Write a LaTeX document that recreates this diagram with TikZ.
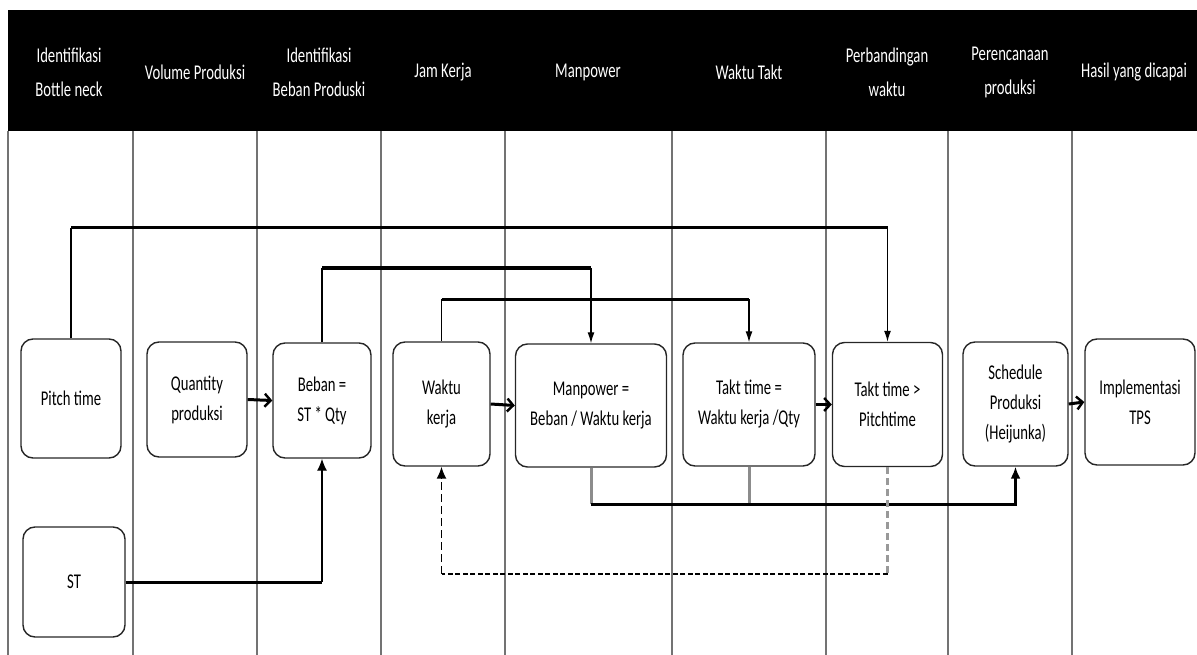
\documentclass[tikz,border=0pt]{standalone}
\usepackage{fontspec}
\setmainfont{Carlito}[FakeStretch=0.7]
\usetikzlibrary{arrows.meta}
\begin{document}
\begin{tikzpicture}[x=1pt,y=-1pt,
  lane/.style={draw=black!55, line width=1.3pt},
  box/.style={draw=black!85, line width=1.4pt, rounded corners=12pt, align=center,
    font=\fontsize{21}{30}\selectfont, inner sep=0pt},
  hdr/.style={text=white, align=center, font=\fontsize{21}{34}\selectfont},
  vthin/.style={draw=black, line width=1.3pt},
  hthick/.style={draw=black, line width=3pt},
  graydrop/.style={draw=black!45, line width=3pt},
  graydash/.style={draw=black!40, line width=3pt, dash pattern=on 7pt off 4pt},
  blkdash/.style={draw=black, line width=2.6pt, dash pattern=on 5pt off 2.5pt},
  vdash/.style={draw=black, line width=1.6pt, dash pattern=on 8pt off 4pt},
  downtip/.style={-{Latex[length=11pt,width=7pt]}},
  uptip/.style={-{Latex[length=12pt,width=10pt]}},
  opentip/.style={-{Straight Barb[length=6pt,width=13pt,line width=2.4pt]}},
  harrow/.style={draw=black, line width=3pt}
]
\useasboundingbox (0,0) rectangle (1197,655);
% header band
\fill[black] (8,10) rectangle (1197,131);
% lane lines
\foreach \x in {8,133,257,381,505,672,826,948,1072}
  \draw[lane] (\x,131) -- (\x,655);
% header texts
\node[hdr] (h1) at (69,72) {Identifikasi\\Bottle neck};
\node[hdr] (h2) at (195,72) {Volume Produksi};
\node[hdr] (h3) at (319,72) {Identifikasi\\Beban Produski};
\node[hdr] (h4) at (443,72) {Jam Kerja};
\node[hdr] (h5) at (588,72) {Manpower};
\node[hdr] (h6) at (749,72) {Waktu Takt};
\node[hdr] (h7) at (887,72) {Perbandingan\\waktu};
\node[hdr] (h8) at (1010,72) {Perencanaan\\produksi};
\node[hdr] (h9) at (1134,72) {Hasil yang dicapai};
% boxes
\node[box, minimum width=100pt, minimum height=119pt] (pitch) at (71,398.5) {Pitch time};
\node[box, minimum width=100pt, minimum height=115pt] (qty) at (197,399.5) {Quantity\\produksi};
\node[box, minimum width=98pt, minimum height=115pt] (beban) at (322,400.5) {Beban =\\ST * Qty};
\node[box, minimum width=97pt, minimum height=124pt] (waktu) at (441.5,404) {Waktu\\kerja};
\node[box, minimum width=151pt, minimum height=123pt] (manpower) at (591,405.5) {Manpower =\\Beban / Waktu kerja};
\node[box, minimum width=132pt, minimum height=123pt] (takt) at (749,404.5) {Takt time =\\Waktu kerja /Qty};
\node[box, minimum width=110pt, minimum height=124pt] (tp) at (887.5,404.5) {Takt time >\\Pitchtime};
\node[box, minimum width=105pt, minimum height=124pt] (sched) at (1015.5,404) {Schedule\\Produksi\\(Heijunka)};
\node[box, minimum width=110pt, minimum height=126pt] (impl) at (1140,402) {Implementasi\\TPS};
\node[box, minimum width=102pt, minimum height=110pt] (st) at (74,582) {ST};
% horizontal arrows
\draw[harrow, opentip] (qty.east) -- (beban.west);
\draw[harrow, opentip] (waktu.east) -- (manpower.west);
\draw[harrow, opentip] (takt.east) -- (tp.west);
\draw[harrow, opentip] (sched.east) -- (impl.west);
% top connectors
\coordinate (a1) at (pitch.north |- 0,228);
\coordinate (a2) at (tp.north |- 0,228);
\draw[vthin] (pitch.north) -- (a1);
\draw[hthick] (a1) -- (a2);
\draw[vthin, downtip] (a2) -- (tp.north);
\coordinate (b1) at (beban.north |- 0,268);
\coordinate (b2) at (manpower.north |- 0,268);
\draw[vthin] (beban.north) -- (b1);
\draw[hthick] (b1) -- (b2);
\draw[vthin, downtip] (b2) -- (manpower.north);
\coordinate (c1) at (waktu.north |- 0,299);
\coordinate (c2) at (takt.north |- 0,299);
\draw[vthin] (waktu.north) -- (c1);
\draw[hthick] (c1) -- (c2);
\draw[vthin, downtip] (c2) -- (takt.north);
% ST to Beban
\coordinate (s1) at (st.east -| beban.south);
\draw[hthick] (st.east) -- (s1);
\draw[vthin, uptip] (s1) -- (beban.south);
% bottom connector to schedule
\coordinate (m1) at (manpower.south |- 0,504);
\coordinate (t1) at (takt.south |- 0,504);
\coordinate (m2) at (sched.south |- 0,504);
\draw[graydrop] (manpower.south) -- (m1);
\draw[graydrop] (takt.south) -- (t1);
\draw[hthick, uptip] (m1) -- (m2) -- (sched.south);
% dashed feedback
\coordinate (d1) at (tp.south |- 0,574);
\coordinate (d2) at (waktu.south |- 0,574);
\draw[graydash] (tp.south) -- (d1);
\draw[blkdash] (d1) -- (d2);
\draw[vdash, uptip] (d2) -- (waktu.south);
\end{tikzpicture}
\end{document}
